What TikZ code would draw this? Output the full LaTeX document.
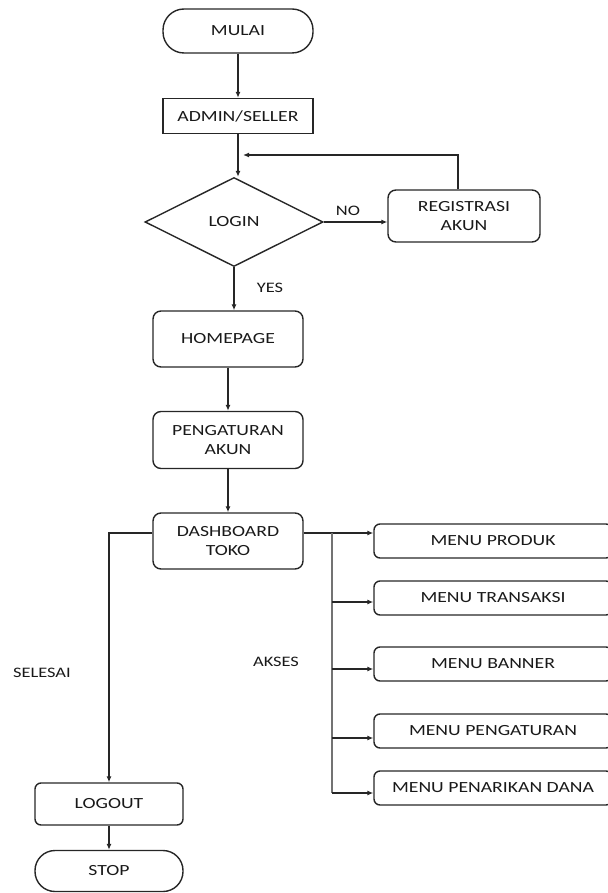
\documentclass[tikz,border=0pt]{standalone}
\usepackage{fontspec}
\setmainfont[FakeStretch=1.27]{Carlito}
\usetikzlibrary{shapes.geometric,arrows.meta}
\begin{document}
\begin{tikzpicture}[x=1pt,y=-1pt,
  every node/.style={font=\fontsize{15.5}{18.5}\selectfont, align=center, inner sep=0pt, text=black!90},
  ln/.style={line width=1.4pt, draw=black!85},
  arr/.style={ln, -{Latex[length=6pt,width=5pt]}},
  box/.style={ln, draw, rounded corners=8pt, minimum width=150pt, minimum height=56pt},
  menubox/.style={ln, draw, rounded corners=6pt, minimum width=238pt, minimum height=34pt},
  term/.style={ln, draw, rounded corners=21pt, minimum width=150pt, minimum height=44pt},
  plain/.style={ln, draw, minimum width=150pt, minimum height=35pt},
  lbl/.style={font=\fontsize{14.5}{16}\selectfont}
]
\useasboundingbox (0,0) rectangle (607,893);

% main column
\node[term] (mulai) at (238,31) {MULAI};
\node[plain] (admin) at (238,116) {ADMIN/SELLER};
\node[ln, draw, diamond, aspect=2, minimum width=178pt, minimum height=89pt] (login) at (234,222) {LOGIN};
\node[box, minimum width=152pt, minimum height=52pt] (regis) at (464,216) {REGISTRASI\\AKUN};
\node[box] (home) at (228,339) {HOMEPAGE};
\node[box, minimum height=57pt] (peng) at (228,440) {PENGATURAN\\AKUN};
\node[box] (dash) at (228,541) {DASHBOARD\\TOKO};
\node[box, rounded corners=6pt, minimum width=148pt, minimum height=42pt] (logout) at (109,804) {LOGOUT};
\node[term, rounded corners=20pt, minimum width=148pt, minimum height=41pt] (stop) at (109,871) {STOP};

% menus
\node[menubox] (m1) at (493,541) {MENU PRODUK};
\node[menubox] (m2) at (493,598) {MENU TRANSAKSI};
\node[menubox] (m3) at (493,664) {MENU BANNER};
\node[menubox] (m4) at (493,731) {MENU PENGATURAN};
\node[menubox] (m5) at (493,788) {MENU PENARIKAN DANA};

% labels
\node[lbl] (no) at (348,211) {NO};
\node[lbl] (yes) at (270,288) {YES};
\node[lbl] (selesai) at (42,673) {SELESAI};
\node[lbl] (akses) at (276,662) {AKSES};

% connectors
\draw[arr] (mulai.south -| admin.north) -- (admin.north);
\draw[arr] (admin.south) -- (admin.south |- login.north);
\draw[arr] (login.east) -- (login.east -| regis.west);
\coordinate (loopend) at (243,155);
\draw[arr] ([xshift=-6pt]regis.north) |- (loopend);
\draw[arr] (login.south) -- (login.south |- home.north);
\draw[arr] (home.south) -- (peng.north);
\draw[arr] (peng.south) -- (dash.north);
\draw[arr] ([yshift=8pt]dash.west) -| (logout.north);
\draw[arr] (logout.south) -- (stop.north);

% bus to menus
\coordinate (t1) at ([yshift=8pt]m1.west);
\coordinate (t2) at ([yshift=-4pt]m2.west);
\coordinate (t3) at ([yshift=-5pt]m3.west);
\coordinate (t4) at ([yshift=-7pt]m4.west);
\coordinate (t5) at ([yshift=-5pt]m5.west);
\coordinate (bus) at (332,533);
\draw[arr] ([yshift=8pt]dash.east) -- (t1);
\draw[line width=2pt, draw=black!55] (bus) -- (bus |- t5);
\foreach \t in {t2,t3,t4,t5} \draw[arr] (bus |- \t) -- (\t);
\end{tikzpicture}
\end{document}
